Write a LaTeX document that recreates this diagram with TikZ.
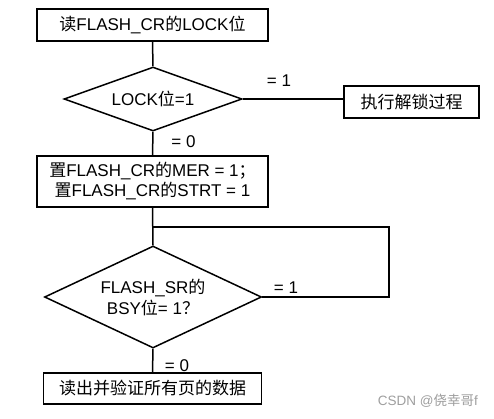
\documentclass[tikz,border=0pt]{standalone}
\usepackage{fontspec}
\setmainfont{Liberation Sans}
\newfontfamily\cjk{Noto Sans CJK SC}
\usetikzlibrary{shapes.geometric}
\tikzset{
  box/.style={draw, line width=1.5pt, rectangle, inner sep=0pt, align=center, font=\fontsize{17}{20}\selectfont},
  dia/.style={draw, line width=1.5pt, diamond, inner sep=0pt},
  txt/.style={align=center, inner sep=0pt, font=\fontsize{17}{21}\selectfont},
  lab/.style={inner sep=0pt, font=\fontsize{17}{20}\selectfont},
  conn/.style={line width=1.5pt},
  wm/.style={inner sep=0pt, text=black!38, font=\fontsize{13.5}{16}\selectfont}
}
\begin{document}
\begin{tikzpicture}[x=1pt,y=-1pt]
\useasboundingbox (0,0) rectangle (494,418);
\node[box, minimum width=231pt, minimum height=32pt] (b1) at (152.5,25) {{\cjk 读}FLASH\_CR{\cjk 的}LOCK{\cjk 位}};
\node[dia, minimum width=178pt, minimum height=64pt] (d1) at (153,99) {};
\node[txt] (d1t) at (153,99) {LOCK{\cjk 位}=1};
\node[box, minimum width=135pt, minimum height=32pt] (b2) at (411.5,102) {\cjk 执行解锁过程};
\node[box, minimum width=231pt, minimum height=51pt] (b3) at (152.5,181.5) {{\cjk 置}FLASH\_CR{\cjk 的}MER = 1{\cjk ；}\\{\cjk 置}FLASH\_CR{\cjk 的}STRT = 1};
\node[dia, minimum width=217pt, minimum height=102pt] (d2) at (153,297) {};
\node[txt] (d2t) at (153,297) {FLASH\_SR{\cjk 的}\\BSY{\cjk 位}= 1{\cjk ？}};
\node[box, minimum width=218pt, minimum height=31pt] (b4) at (152.5,388.5) {\cjk 读出并验证所有页的数据};
\coordinate (loopl) at (153,227);
\coordinate (loopr) at (389,227);
\draw[conn] (b1.south) -- (d1.north);
\draw[conn] (d1.east) -- (d1.east -| b2.west);
\draw[conn] (d1.south) -- (b3.north);
\draw[conn] (b3.south) -- (d2.north);
\draw[conn] (loopl) -- (loopr) -- (loopr |- d2.east) -- (d2.east);
\draw[conn] (d2.south) -- (b4.north);
\node[lab] (l1) at (279,81) {= 1};
\node[lab] (l0) at (183.5,142) {= 0};
\node[lab] (l2) at (286,288) {= 1};
\node[lab] (l3) at (177,366) {= 0};
\node[wm, anchor=east] (w) at (478,401) {CSDN @{\cjk 侥幸哥}f};
\end{tikzpicture}
\end{document}
